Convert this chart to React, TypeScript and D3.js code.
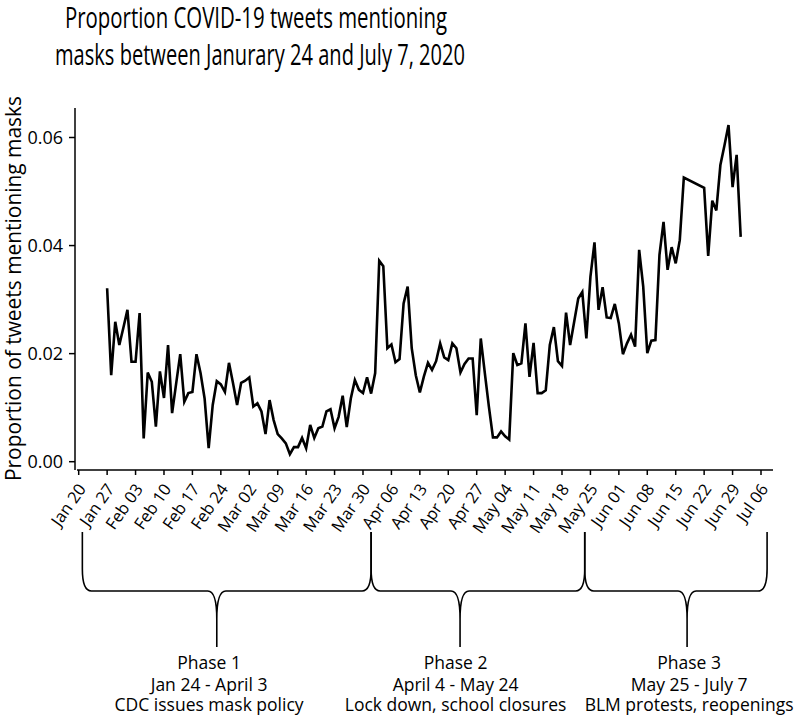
import React from "react";
import * as d3 from "d3";

// ---------- data ----------
const seriesStart = "2020-01-27"; // first daily observation
// daily proportion of COVID-19 tweets mentioning masks (null = no data that day)
const proportions: (number | null)[] = [
  0.0321, 0.016, 0.0259, 0.0216, 0.0248, 0.0281, 0.0185, 0.0185, 0.0275, 0.0043,
  0.0165, 0.0148, 0.0065, 0.0167, 0.0118, 0.0216, 0.009, 0.0145, 0.0199, 0.0111,
  0.0127, 0.0129, 0.0199, 0.0164, 0.0117, 0.0025, 0.0105, 0.0149, 0.0143, 0.0129,
  0.0183, 0.0145, 0.0105, 0.0146, 0.015, 0.0156, 0.0102, 0.0108, 0.0093, 0.0051,
  0.0114, 0.0077, 0.0051, 0.0043, 0.0034, 0.0014, 0.0027, 0.0027, 0.0044, 0.0025,
  0.0068, 0.0044, 0.0062, 0.0065, 0.0093, 0.0097, 0.0062, 0.0083, 0.0122, 0.0064,
  0.0117, 0.0151, 0.0133, 0.0127, 0.0156, 0.0126, 0.0164, 0.0372, 0.0362, 0.021,
  0.0217, 0.0184, 0.019, 0.0293, 0.0324, 0.021, 0.016, 0.0128, 0.0158, 0.0183,
  0.017, 0.0186, 0.0219, 0.0193, 0.0188, 0.0219, 0.021, 0.0165, 0.0181, 0.0191,
  0.0191, 0.0086, 0.0228, 0.0164, 0.0102, 0.0045, 0.0045, 0.0056, 0.0047, 0.0041,
  0.0201, 0.0179, 0.0182, 0.0256, 0.0157, 0.022, 0.0127, 0.0127, 0.0132, 0.0216,
  0.0249, 0.0186, 0.0177, 0.0276, 0.0216, 0.0259, 0.0302, 0.0314, 0.0228, 0.0342,
  0.0406, 0.0281, 0.0323, 0.0267, 0.0266, 0.0292, 0.0256, 0.0199, 0.0219, 0.0235,
  0.0213, 0.0392, 0.0324, 0.0201, 0.0224, 0.0225, 0.0383, 0.0444, 0.0355, 0.0397,
  0.0367, 0.041, 0.0526, null, null, null, null, 0.0507, 0.0381, 0.0483,
  0.0465, 0.0549, 0.0585, 0.0623, 0.0508, 0.0568, 0.0416,
];

const yTicks = [0, 0.02, 0.04, 0.06];
const xTickFirst = "2020-01-20";
const xTickLast = "2020-07-06";

const titleLines = [
  "Proportion COVID-19 tweets mentioning",
  "masks between Janurary 24 and July 7, 2020",
];
const yLabel = "Proportion of tweets mentioning masks";

const phaseNames = ["Phase 1", "Phase 2", "Phase 3"];
const phaseRanges = ["Jan 24 - April 3", "April 4 - May 24", "May 25 - July 7"];
const phaseEvents = [
  "CDC issues mask policy",
  "Lock down, school closures",
  "BLM protests, reopenings",
];
// brace geometry in days after Jan 20 (as drawn)
const phaseBounds = [0.9, 72, 124.6, 169.5];
const phaseTips = [34, 93.9, 149.8];
const phaseTextCenters = [32.1, 92.8, 150.3];

// ---------- component ----------
const W = 800;
const H = 718;
const FONT = "'Open Sans', 'Noto Sans', sans-serif";

export default function App() {
  const t0 = new Date(xTickFirst + "T00:00:00Z");
  const t1 = new Date(xTickLast + "T00:00:00Z");
  const x = d3.scaleUtc().domain([t0, t1]).range([78.7, 761]);
  const y = d3.scaleLinear().domain([0, 0.06]).range([461.7, 137.5]);
  const dayX = (d: number) => x(new Date(t0.getTime() + d * 864e5));

  const s0 = new Date(seriesStart + "T00:00:00Z");
  const points = proportions
    .map((v, i) => ({ date: d3.utcDay.offset(s0, i), v }))
    .filter((p) => p.v !== null) as { date: Date; v: number }[];

  const line = d3
    .line<{ date: Date; v: number }>()
    .x((p) => x(p.date))
    .y((p) => y(p.v));

  const xTicks = d3.utcMonday.range(t0, d3.utcDay.offset(t1, 1));
  const fmt = d3.utcFormat("%b %d");

  const yTop = 532;
  const yMid = 591;
  const yTip = 647;
  const brace = (x0: number, x1: number, xt: number) => {
    const rx = 9,
      ryEnd = 22,
      ryTip = 28;
    return (
      `M${x0},${yTop} L${x0},${yMid - ryEnd} Q${x0},${yMid} ${x0 + rx},${yMid} ` +
      `L${xt - rx},${yMid} Q${xt},${yMid} ${xt},${yMid + ryTip} L${xt},${yTip} ` +
      `M${xt},${yMid + ryTip} Q${xt},${yMid} ${xt + rx},${yMid} ` +
      `L${x1 - rx},${yMid} Q${x1},${yMid} ${x1},${yMid - ryEnd} L${x1},${yTop}`
    );
  };

  return (
    <svg
      width={W}
      height={H}
      style={{ position: "absolute", left: 0, top: 0, background: "#fff" }}
      fontFamily={FONT}
    >
      <rect width={W} height={H} fill="#fff" />
      {/* title */}
      <text x={65} y={28} fontSize={30} textLength={382} lengthAdjust="spacingAndGlyphs" fill="#000">
        {titleLines[0]}
      </text>
      <text x={55} y={65} fontSize={30} textLength={410} lengthAdjust="spacingAndGlyphs" fill="#000">
        {titleLines[1]}
      </text>

      {/* y axis */}
      <line x1={75} x2={75} y1={108} y2={470} stroke="#000" strokeWidth={1.5} />
      {yTicks.map((t) => (
        <g key={t}>
          <line x1={69} x2={75} y1={y(t)} y2={y(t)} stroke="#000" strokeWidth={1.5} />
          <text x={63} y={y(t)} dy="0.36em" fontSize={18} textAnchor="end" fill="#000">
            {d3.format(".2f")(t)}
          </text>
        </g>
      ))}
      <text
        transform={`translate(21,${288.5}) rotate(-90)`}
        fontSize={21}
        textAnchor="middle"
        textLength={385}
        lengthAdjust="spacingAndGlyphs"
        fill="#000"
      >
        {yLabel}
      </text>

      {/* x axis */}
      <line x1={77} x2={773} y1={470} y2={470} stroke="#000" strokeWidth={1.5} />
      {xTicks.map((t) => (
        <g key={t.getTime()}>
          <line x1={x(t)} x2={x(t)} y1={470} y2={475} stroke="#000" strokeWidth={1.5} />
          <text
            transform={`translate(${x(t) + 8},489) rotate(-55)`}
            fontSize={16.5}
            textAnchor="end"
            fill="#000"
          >
            {fmt(t)}
          </text>
        </g>
      ))}

      {/* series */}
      <path d={line(points) || ""} fill="none" stroke="#000" strokeWidth={2.6} strokeLinejoin="miter" />

      {/* phase braces */}
      {phaseNames.map((name, i) => {
        const x0 = dayX(phaseBounds[i]);
        const x1 = dayX(phaseBounds[i + 1]);
        const xt = dayX(phaseTips[i]);
        const xc = dayX(phaseTextCenters[i]);
        return (
          <g key={name}>
            <path d={brace(x0, x1, xt)} fill="none" stroke="#000" strokeWidth={1.6} />
            <text x={xc} y={669} fontSize={17.5} textAnchor="middle" fill="#000">
              {name}
            </text>
            <text x={xc} y={690.5} fontSize={17.5} textAnchor="middle" fill="#000">
              {phaseRanges[i]}
            </text>
            <text x={xc} y={711} fontSize={17.5} textAnchor="middle" fill="#000">
              {phaseEvents[i]}
            </text>
          </g>
        );
      })}
    </svg>
  );
}
